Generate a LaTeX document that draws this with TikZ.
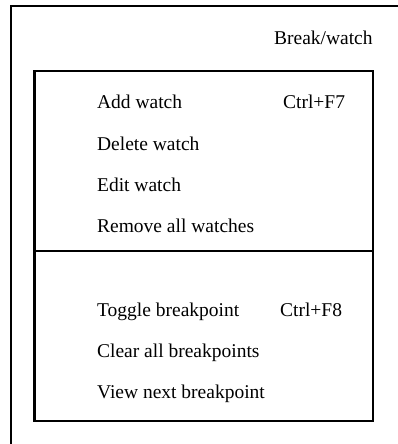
\documentclass[tikz,border=0pt]{standalone}
\usepackage{fontspec}
\setmainfont{Liberation Serif}

\begin{document}
\begin{tikzpicture}[x=1pt,y=-1pt,line width=2.2pt,
    menuitem/.style={anchor=base west,inner sep=0pt,font=\fontsize{19.5}{22}\selectfont}]
        \useasboundingbox (0,0) rectangle (398,444);
        \draw[-] (11,444) -- (11,6) -- (398,6);
        \draw[-] (34.5,71) rectangle (373,421);
        \draw[-] (34.5,251) -- (373,251);
        \node[menuitem] (title) at (273,45) {Break/watch};
        \node[menuitem] (addw) at (96,108) {Add watch};
        \node[menuitem] (keyf7) at (282,108) {Ctrl+F7};
        \node[menuitem] (delw) at (96,150) {Delete watch};
        \node[menuitem] (editw) at (96,191) {Edit watch};
        \node[menuitem] (remw) at (96,232) {Remove all watches};
        \node[menuitem] (togb) at (96,316) {Toggle breakpoint};
        \node[menuitem] (keyf8) at (279,316) {Ctrl+F8};
        \node[menuitem] (clrb) at (96,357) {Clear all breakpoints};
        \node[menuitem] (nextb) at (96,398) {View next breakpoint};
    \end{tikzpicture}
\end{document}
